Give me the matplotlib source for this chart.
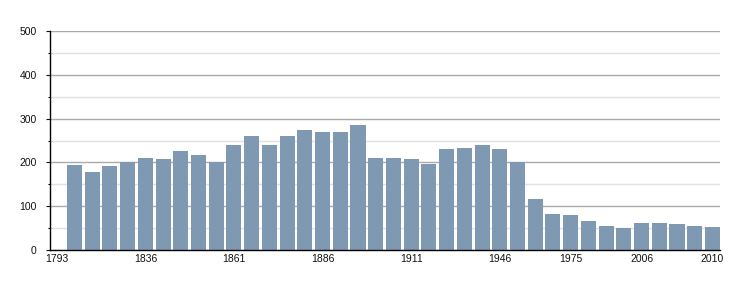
import numpy as np
import matplotlib.pyplot as plt

# Données (années de recensement et population)
years = ['1793', '1800', '1806', '1821', '1831', '1836', '1841', '1846', '1851', '1856',
         '1861', '1866', '1872', '1876', '1881', '1886', '1891', '1896', '1901', '1906',
         '1911', '1921', '1926', '1931', '1936', '1946', '1954', '1962', '1968', '1975',
         '1982', '1990', '1999', '2006', '2007', '2008', '2009', '2010']
population = [np.nan, 194, 178, 192, 201, 210, 207, 226, 217, 201,
              239, 260, 239, 260, 273, 269, 269, 285, 210, 210,
              207, 196, 230, 232, 239, 230, 201, 117, 82, 80,
              67, 55, 51, 62, 62, 60, 55, 53]
shown_labels = ['1793', '1836', '1861', '1886', '1911', '1946', '1975', '2006', '2010']

plt.rcParams['font.family'] = ['Liberation Sans', 'DejaVu Sans']

fig = plt.figure(figsize=(7.5, 3), dpi=100)
ax = fig.add_axes([50 / 750, 50 / 300, 670 / 750, 219 / 300])

x = np.arange(len(years))
ax.bar(x, population, width=0.85, color='#7f99b2', zorder=3)

# la dernière barre touche le bord droit du graphique
ax.set_xlim(-0.38, len(years) - 1 + 0.425)
ax.set_ylim(0, 500)

# grille : traits forts tous les 100, traits clairs tous les 50
ax.set_yticks(np.arange(0, 501, 100))
ax.set_yticks(np.arange(50, 500, 100), minor=True)
ax.grid(axis='y', which='major', color='#aaaaaa', linewidth=1, zorder=1)
ax.grid(axis='y', which='minor', color='#e0e0e0', linewidth=1, zorder=1)

ticks = [years.index(y) for y in shown_labels]
ax.set_xticks(ticks)
ax.set_xticklabels(shown_labels)

ax.tick_params(axis='y', which='major', length=3, width=0.8, pad=6.5, labelsize=7.5, colors='#111111')
ax.tick_params(axis='y', which='minor', length=1.5, width=0.8)
ax.tick_params(axis='x', length=0, pad=3, labelsize=7.5, colors='#111111')

for s in ['top', 'right']:
    ax.spines[s].set_visible(False)
for s in ['left', 'bottom']:
    ax.spines[s].set_color('black')
    ax.spines[s].set_linewidth(1)
    ax.spines[s].set_zorder(4)

fig.savefig('out.png', dpi=100)
